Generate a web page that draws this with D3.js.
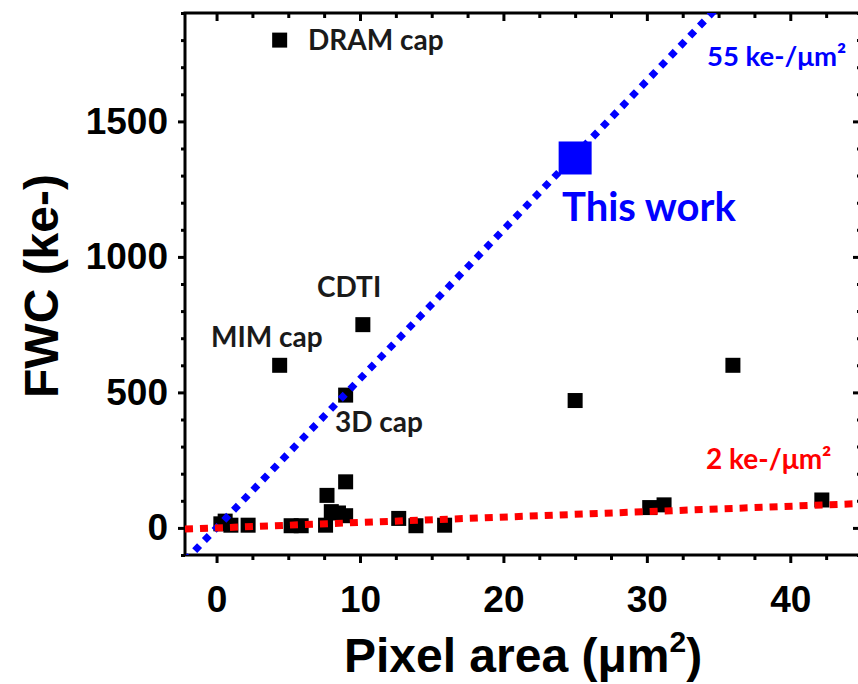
<!DOCTYPE html>
<html>
<head>
<meta charset="utf-8">
<script src="https://cdn.jsdelivr.net/npm/d3@7"></script>
<style>
  body { margin: 0; background: #fff; }
  svg { display: block; }
  .tick text { font-family: "Liberation Sans", Arial, sans-serif; font-weight: bold; }
</style>
</head>
<body>
<div id="chart"></div>
<script>
// pixel area (um^2) and full well capacity (ke-) of the reported pixels
var areaPts = [0.3, 0.6, 1.0, 2.2, 5.2, 5.9, 7.6, 7.7, 8.0, 8.5, 9.0, 9.0, 12.7, 13.9, 15.9, 30.2, 31.2, 42.2,
               4.4, 4.4, 10.2, 9.0, 25.0, 36.0];
var fwcPts  = [15, 25, 10, 10, 8, 8, 10, 120, 60, 55, 45, 170, 35, 8, 10, 75, 85, 103,
               1800, 600, 750, 490, 470, 600];
// this work
var thisArea = [25];
var thisFwc = [1365];
// reference slopes (ke-/um^2)
var slopes = [55, 2];
var slopeColors = ["#0000ff", "#ff0000"];
var xTicks = [0, 10, 20, 30, 40];
var yTicks = [0, 500, 1000, 1500];

var W = 858, H = 684;
var margin = { left: 185, right: 862, top: 13, bottom: 555 };

var svg = d3.select("#chart").append("svg")
  .attr("width", W).attr("height", H);

var x = d3.scaleLinear().domain([-2.2, 45]).range([margin.left, margin.right]);
var y = d3.scaleLinear().domain([-100, 1900]).range([margin.bottom, margin.top]);

svg.append("clipPath").attr("id", "clip")
  .append("rect").attr("x", margin.left).attr("y", margin.top)
  .attr("width", margin.right - margin.left).attr("height", margin.bottom - margin.top);

var xMinor = d3.range(-2.5, 45.1, 2.5).filter(function(v) { return v > -2.2 && v % 10 !== 0; });
var yMinor = d3.range(-100, 1901, 100).filter(function(v) { return v % 500 !== 0; });

function styleAxis(g) {
  g.select(".domain").remove();
  g.selectAll(".tick line").attr("stroke", "#000").attr("stroke-width", 3);
  g.selectAll(".tick text").attr("fill", "#000").style("font-size", "37px");
}

// bottom axis (outward ticks)
svg.append("g").attr("transform", "translate(0," + margin.bottom + ")")
  .call(d3.axisBottom(x).tickValues(xTicks).tickSize(8).tickPadding(23).tickFormat(d3.format("d")))
  .call(styleAxis);
svg.append("g").attr("transform", "translate(0," + margin.bottom + ")")
  .call(d3.axisBottom(x).tickValues(xMinor).tickSize(5).tickFormat(""))
  .call(styleAxis);
// top axis (inward ticks)
svg.append("g").attr("transform", "translate(0," + margin.top + ")")
  .call(d3.axisBottom(x).tickValues(xTicks).tickSize(8).tickFormat(""))
  .call(styleAxis);
svg.append("g").attr("transform", "translate(0," + margin.top + ")")
  .call(d3.axisBottom(x).tickValues(xMinor).tickSize(5).tickFormat(""))
  .call(styleAxis);
// left axis (outward ticks)
svg.append("g").attr("transform", "translate(" + margin.left + ",0)")
  .call(d3.axisLeft(y).tickValues(yTicks).tickSize(7).tickPadding(10).tickFormat(d3.format("d")))
  .call(styleAxis);
svg.append("g").attr("transform", "translate(" + margin.left + ",0)")
  .call(d3.axisLeft(y).tickValues(yMinor).tickSize(4).tickFormat(""))
  .call(styleAxis);
// right axis (inward ticks)
svg.append("g").attr("transform", "translate(" + margin.right + ",0)")
  .call(d3.axisLeft(y).tickValues(yTicks).tickSize(9).tickFormat(""))
  .call(styleAxis);
svg.append("g").attr("transform", "translate(" + margin.right + ",0)")
  .call(d3.axisLeft(y).tickValues(yMinor).tickSize(5).tickFormat(""))
  .call(styleAxis);

// frame
svg.append("rect")
  .attr("x", margin.left).attr("y", margin.top)
  .attr("width", margin.right - margin.left).attr("height", margin.bottom - margin.top)
  .attr("fill", "none").attr("stroke", "#000").attr("stroke-width", 3);

// data squares
var s = 15;
svg.append("g").selectAll("rect")
  .data(areaPts)
  .enter().append("rect")
  .attr("x", function(d) { return x(d) - s / 2; })
  .attr("y", function(d, i) { return y(fwcPts[i]) - s / 2; })
  .attr("width", s).attr("height", s)
  .attr("fill", "#000");

// reference lines
var lineG = svg.append("g").attr("clip-path", "url(#clip)");
slopes.forEach(function(k, i) {
  var xs = [-2.2, 45];
  lineG.append("path")
    .attr("d", d3.line().x(function(d) { return x(d); }).y(function(d) { return y(k * d); })(xs))
    .attr("fill", "none")
    .attr("stroke", slopeColors[i])
    .attr("stroke-width", 7)
    .attr("stroke-dasharray", i === 0 ? "7,7" : "8,7");
});

// this work square
var bs = 33;
svg.append("g").selectAll("rect")
  .data(thisArea)
  .enter().append("rect")
  .attr("x", function(d) { return x(d) - bs / 2; })
  .attr("y", function(d, i) { return y(thisFwc[i]) - bs / 2; })
  .attr("width", bs).attr("height", bs)
  .attr("fill", "#0000ff");

// annotations
var annFont = "Lato, 'Open Sans', sans-serif";
function note(tx, ty, str, size, color) {
  svg.append("text").attr("x", tx).attr("y", ty)
    .attr("font-family", annFont).attr("font-weight", "bold")
    .attr("font-size", size).attr("fill", color).text(str);
}
note(308, 50, "DRAM cap", 28, "#1a1a1a");
note(317, 297, "CDTI", 28, "#1a1a1a");
note(211, 347, "MIM cap", 28, "#1a1a1a");
note(335, 432, "3D cap", 28, "#1a1a1a");
note(562, 221, "This work", 40, "#0000ff");
note(707, 66, "55 ke-/μm²", 27.5, "#0000ff");
note(706, 469, "2 ke-/μm²", 28, "#ff0000");

// axis titles
var xt = svg.append("text")
  .attr("x", 523).attr("y", 672)
  .attr("text-anchor", "middle")
  .attr("font-family", "'Liberation Sans', Arial, sans-serif")
  .attr("font-weight", "bold").attr("font-size", 48);
xt.append("tspan").text("Pixel area (μm");
xt.append("tspan").attr("font-size", 30).attr("dy", -20).text("2");
xt.append("tspan").attr("dy", 20).text(")");

svg.append("text")
  .attr("transform", "translate(58,286) rotate(-90)")
  .attr("text-anchor", "middle")
  .attr("font-family", "'Liberation Sans', Arial, sans-serif")
  .attr("font-weight", "bold").attr("font-size", 48)
  .text("FWC (ke-)");
</script>
</body>
</html>
